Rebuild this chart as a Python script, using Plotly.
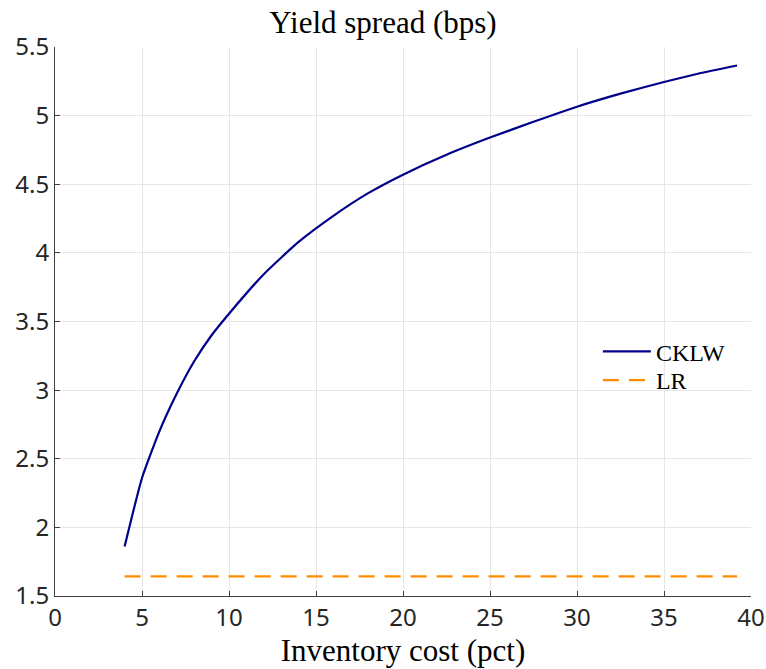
import plotly.graph_objects as go

# Data
cost_pct = [4, 5, 6, 7, 8, 9, 10, 12, 14, 16, 18, 20, 22.5, 25, 27.5, 30, 32.5, 35, 37, 39.2]
cklw = [1.86, 2.36, 2.70, 2.975, 3.21, 3.40, 3.557, 3.845, 4.08, 4.27, 4.435, 4.57, 4.715, 4.84,
        4.955, 5.065, 5.16, 5.245, 5.307, 5.365]
lr_x = [4, 39.2]
lr = [1.643, 1.643]

x_ticks = [0, 5, 10, 15, 20, 25, 30, 35, 40]
y_ticks = [1.5, 2, 2.5, 3, 3.5, 4, 4.5, 5, 5.5]
y_tick_text = ["1.5", "2", "2.5", "3", "3.5", "4", "4.5", "5", "5.5"]

serif = "Liberation Serif"
sans = "Noto Sans"
axis_col = "#404040"
grid_col = "#e6e6e6"

fig = go.Figure()
fig.add_trace(go.Scatter(x=cost_pct, y=cklw, mode="lines", name="CKLW", legend="legend",
                         line=dict(color="#00008B", width=2.2, shape="spline", smoothing=0.5)))
fig.add_trace(go.Scatter(x=lr_x, y=lr, mode="lines", name="LR", legend="legend2",
                         line=dict(color="#FF8C00", width=2.2, dash="16px,10px")))

leg_common = dict(xanchor="left", yanchor="top", bgcolor="rgba(0,0,0,0)",
                  font=dict(family=serif, size=24, color="black"), itemwidth=48)

fig.update_layout(
    width=766, height=669,
    margin=dict(l=55, r=15, t=47, b=73),
    paper_bgcolor="white", plot_bgcolor="white",
    title=dict(text="Yield spread (bps)", x=0.5, xanchor="center", y=1 - 22 / 669, yanchor="middle",
               font=dict(family=serif, size=31, color="black")),
    showlegend=True,
    legend=dict(x=0.78, y=0.486, **leg_common),
    legend2=dict(x=0.78, y=0.4335, **leg_common),
    xaxis=dict(range=[0, 40], tickvals=x_ticks, ticktext=[str(v) for v in x_ticks],
               automargin=False,
               showgrid=True, gridcolor=grid_col, gridwidth=1, zeroline=False,
               showline=True, linecolor=axis_col, linewidth=1, mirror=False,
               ticks="inside", ticklen=5, tickcolor=axis_col,
               tickfont=dict(family=sans, size=24, color="#262626"),
               title=dict(text="Inventory cost (pct)", font=dict(family=serif, size=31, color="black"), standoff=4)),
    yaxis=dict(range=[1.5, 5.5], tickvals=y_ticks, ticktext=y_tick_text,
               automargin=False,
               showgrid=True, gridcolor=grid_col, gridwidth=1, zeroline=False,
               showline=True, linecolor=axis_col, linewidth=1, mirror=False,
               ticks="inside", ticklen=5, tickcolor=axis_col,
               tickfont=dict(family=sans, size=24, color="#262626")),
)

fig.write_html("out.html", config={"displayModeBar": False},
               post_script="document.body.style.margin='0';document.body.style.overflow='hidden';")
